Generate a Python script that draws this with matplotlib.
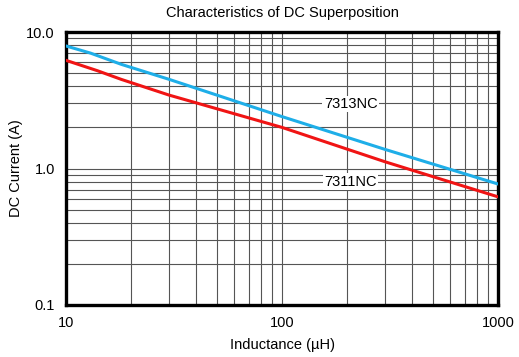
import matplotlib
matplotlib.use("Agg")
import matplotlib.pyplot as plt
from matplotlib.ticker import FixedLocator, NullFormatter

plt.rcParams['font.family'] = ['Liberation Sans', 'DejaVu Sans']

# inductance (uH) vs DC current (A)
L_7313 = [10, 13, 18, 30, 100, 300, 1000]
I_7313 = [7.9, 7.0, 5.8, 4.5, 2.4, 1.38, 0.77]
L_7311 = [10, 14, 18, 30, 100, 300, 1000]
I_7311 = [6.2, 5.2, 4.5, 3.45, 2.0, 1.12, 0.62]

x_ticks = [10, 100, 1000]
x_labels = ["10", "100", "1000"]
y_ticks = [0.1, 1.0, 10.0]
y_labels = ["0.1", "1.0", "10.0"]

fig = plt.figure(figsize=(5.19, 3.57), dpi=100)
ax = fig.add_axes([66/519, 52/357, 432/519, 273/357])

ax.plot(L_7313, I_7313, color="#1eaee8", lw=2.2, zorder=3)
ax.plot(L_7311, I_7311, color="#f01414", lw=2.2, zorder=3)

ax.set_xscale("log")
ax.set_yscale("log")
ax.set_xlim(10, 1000)
ax.set_ylim(0.1, 10)

ax.xaxis.set_major_locator(FixedLocator(x_ticks))
ax.set_xticklabels(x_labels)
ax.yaxis.set_major_locator(FixedLocator(y_ticks))
ax.set_yticklabels(y_labels)
ax.xaxis.set_minor_formatter(NullFormatter())
ax.yaxis.set_minor_formatter(NullFormatter())

ax.grid(True, which="both", color="#555555", lw=0.8)
ax.tick_params(which="both", length=0, labelsize=10.5, colors="black", pad=8)
for s in ax.spines.values():
    s.set_linewidth(2.4)
    s.set_color("black")

ax.text(208, 2.97, "7313NC", ha="center", va="center", fontsize=10.5,
        bbox=dict(facecolor="white", edgecolor="none", pad=1), zorder=4)
ax.text(208, 0.80, "7311NC", ha="center", va="center", fontsize=10.5,
        bbox=dict(facecolor="white", edgecolor="none", pad=1), zorder=4)

ax.set_title("Characteristics of DC Superposition", fontsize=10.5, pad=11)
ax.set_xlabel("Inductance (\u00b5H)", fontsize=10.5, labelpad=6)
ax.set_ylabel("DC Current (A)", fontsize=10.5, labelpad=2)

fig.savefig("out.png", dpi=100)
